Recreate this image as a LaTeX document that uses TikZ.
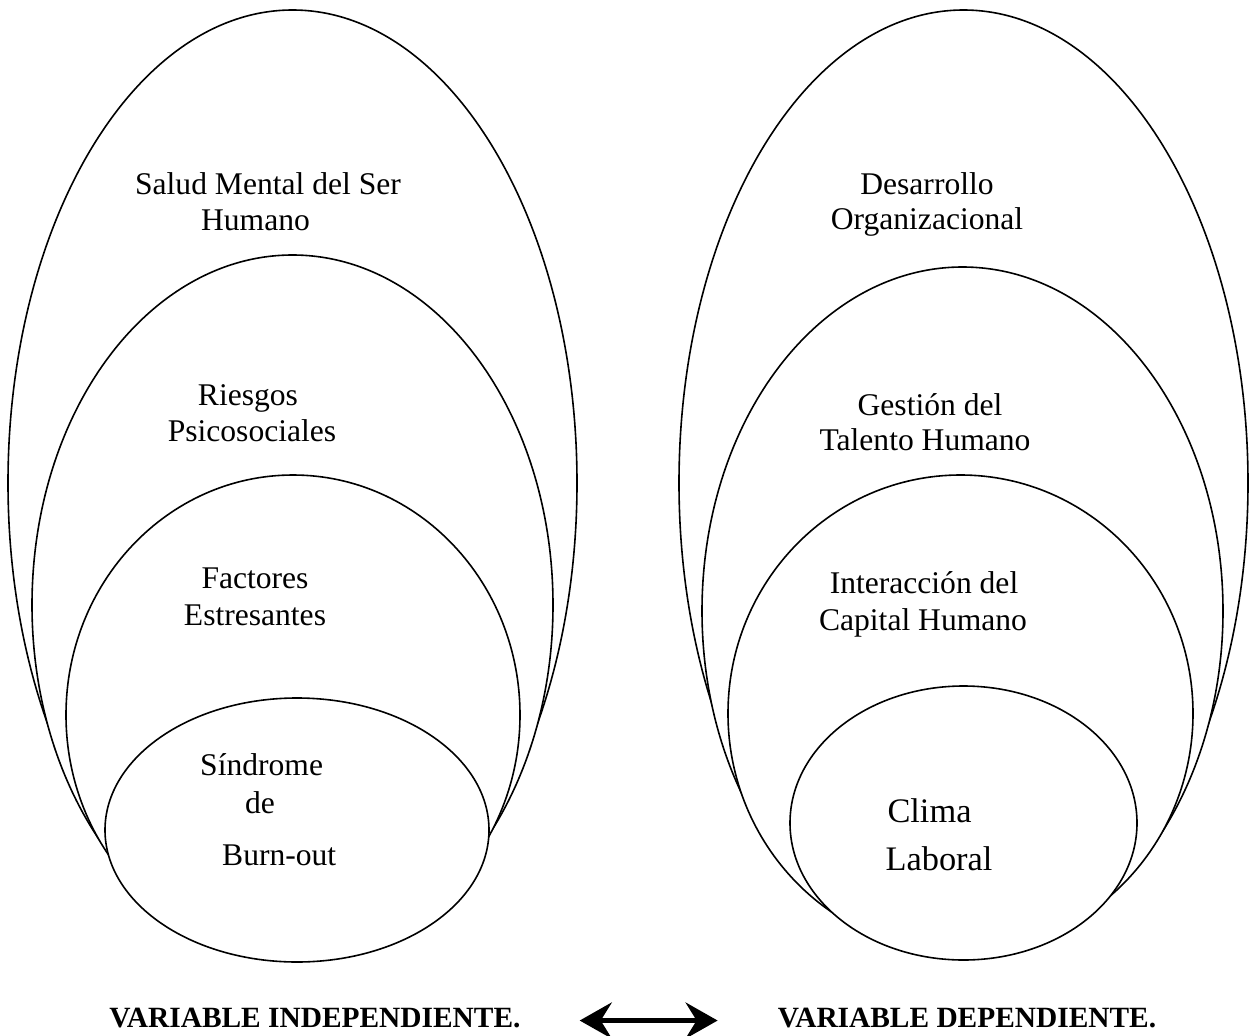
\documentclass[tikz,border=0pt]{standalone}
\usepackage{fontspec}
\setmainfont{Liberation Serif}
\usetikzlibrary{arrows.meta}
\begin{document}
\begin{tikzpicture}[x=1bp,y=-1bp,
  ring/.style={draw=black,fill=white,line width=1.6bp},
  lbl/.style={anchor=base,inner sep=0pt,font=\fontsize{31.7}{36}\selectfont},
  biglbl/.style={anchor=base,inner sep=0pt,font=\fontsize{34.5}{40}\selectfont},
  varlbl/.style={anchor=base,inner sep=0pt,font=\fontsize{29.5}{34}\selectfont\bfseries},
  bigarrow/.style={line width=5bp,
    {Stealth[length=32bp,width=36bp,inset=11bp]}-{Stealth[length=32bp,width=36bp,inset=11bp]}}
  ]
\useasboundingbox (0,0) rectangle (1250,1036);
% left group
\draw[ring] (292.5,483) ellipse [x radius=284.5, y radius=473];
\draw[ring] (292.5,605) ellipse [x radius=260.5, y radius=350];
\draw[ring] (293,715) ellipse [x radius=227, y radius=240];
\draw[ring] (297,830) ellipse [x radius=192, y radius=132];
% right group
\draw[ring] (963.5,483) ellipse [x radius=284.5, y radius=473];
\draw[ring] (962.5,611) ellipse [x radius=260.5, y radius=344];
\draw[ring] (960.5,713.5) ellipse [x radius=232.5, y radius=238.5];
\draw[ring] (963.5,823) ellipse [x radius=173.5, y radius=137];
% left labels
\node[lbl] (s1) at (268,194) {Salud Mental del Ser};
\node[lbl] (s2) at (255.5,230) {Humano};
\node[lbl] (r1) at (248,405) {Riesgos};
\node[lbl] (r2) at (252,441) {Psicosociales};
\node[lbl] (f1) at (255,588) {Factores};
\node[lbl] (f2) at (255,625) {Estresantes};
\node[lbl,anchor=base west] (b1) at (200,775) {Síndrome};
\node[lbl,anchor=base west] (b2) at (245,813) {de};
\node[lbl,anchor=base west] (b3) at (222,865) {Burn-out};
% right labels
\node[lbl] (d1) at (927,194) {Desarrollo};
\node[lbl] (d2) at (927,229) {Organizacional};
\node[lbl] (g1) at (930,415) {Gestión del};
\node[lbl] (g2) at (925,450) {Talento Humano};
\node[lbl] (i1) at (924,593) {Interacción del};
\node[lbl] (i2) at (923,630) {Capital Humano};
\node[biglbl] (c1) at (929.5,822) {Clima};
\node[biglbl] (c2) at (939,870) {Laboral};
% bottom
\node[varlbl] (vi) at (315,1027) {VARIABLE INDEPENDIENTE.};
\node[varlbl] (vd) at (967,1027) {VARIABLE DEPENDIENTE.};
\draw[bigarrow, shorten <=59bp, shorten >=60bp]
  ([yshift=-3bp]vi.east) -- ([yshift=-3bp]vd.west);
\end{tikzpicture}
\end{document}
